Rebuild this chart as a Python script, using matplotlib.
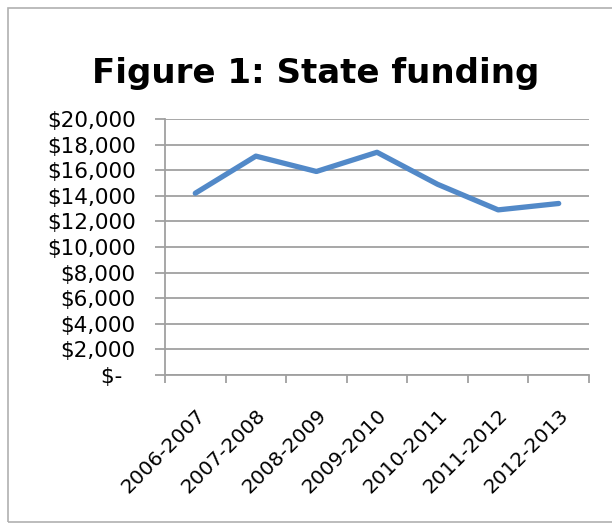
import matplotlib.pyplot as plt
from matplotlib.patches import Rectangle
from matplotlib.ticker import FuncFormatter

years = ["2006-2007", "2007-2008", "2008-2009", "2009-2010",
         "2010-2011", "2011-2012", "2012-2013"]
funding = [14200, 17100, 15900, 17400, 14900, 12900, 13400]

plt.rcParams['font.family'] = ['DejaVu Sans']

W, H = 612, 529
fig = plt.figure(figsize=(W / 100, H / 100), dpi=100)
# outer chart frame (cut off at the right edge like the original)
fig.patches.append(Rectangle((8 / W, 1 - 522 / H), 700 / W, 514 / H,
                             transform=fig.transFigure, fill=False,
                             edgecolor='#b0b0b0', linewidth=1.2))

ax = fig.add_axes([165 / W, 1 - 375 / H, 424 / W, 256 / H])
x = list(range(len(years)))
ax.plot(x, funding, color='#5289c8', linewidth=3.8, solid_capstyle='round',
        solid_joinstyle='round')

ax.set_xlim(-0.5, len(years) - 0.5)
ax.set_ylim(0, 20000)
ax.set_yticks(range(0, 20001, 2000))
ax.yaxis.set_major_formatter(FuncFormatter(
    lambda v, p: '$-  ' if v == 0 else '${:,.0f}'.format(v)))
ax.yaxis.grid(True, color='#a0a0a0', linewidth=1.3)
ax.set_axisbelow(True)

ax.set_xticks([i - 0.5 for i in range(len(years) + 1)])
ax.set_xticklabels([])
ax.set_xticks(x, minor=True)
ax.set_xticklabels(years, minor=True, rotation=45, ha='right',
                   rotation_mode='anchor', fontsize=14.5)
ax.tick_params(axis='x', which='major', length=6, color='#a0a0a0', width=1.3)
ax.tick_params(axis='x', which='minor', length=0, pad=22)
ax.tick_params(axis='y', length=7, color='#a0a0a0', width=1.3, labelsize=15.5,
               pad=14)

for s in ['top', 'right']:
    ax.spines[s].set_visible(False)
for s in ['left', 'bottom']:
    ax.spines[s].set_color('#a0a0a0')
    ax.spines[s].set_linewidth(1.3)

fig.text(316 / W, 1 - 83 / H, "Figure 1: State funding", ha='center',
         va='baseline', fontsize=24.5, fontweight='bold')

fig.savefig("out.png", dpi=100)
